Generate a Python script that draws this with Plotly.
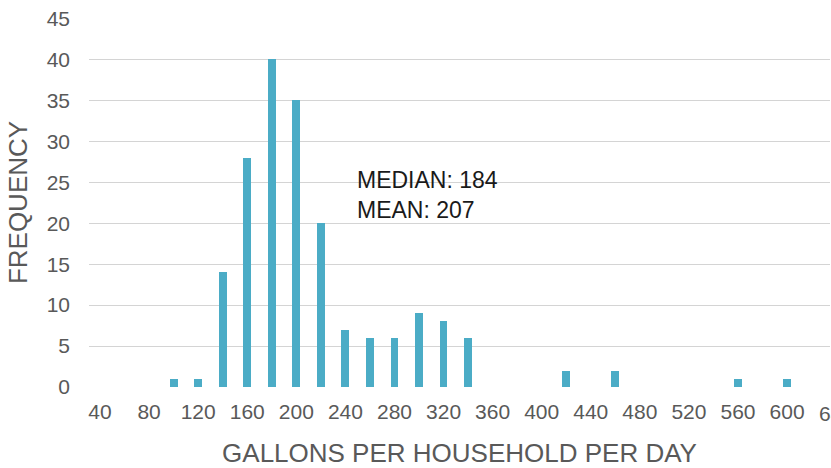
import plotly.graph_objects as go

# Data
bin_centers = [100, 120, 140, 160, 180, 200, 220, 240, 260, 280, 300, 320, 340, 420, 460, 560, 600]
frequency = [1, 1, 14, 28, 40, 35, 20, 7, 6, 6, 9, 8, 6, 2, 2, 1, 1]
x_tick_values = list(range(40, 641, 40))
y_tick_values = list(range(0, 46, 5))
median_value = 184
mean_value = 207

x_range = [31, 635]
y_range = [0, 45.06]
grey = "#595959"
font_family = "Liberation Sans, Arial, sans-serif"

fig = go.Figure()
fig.add_trace(go.Bar(
    x=bin_centers,
    y=frequency,
    width=6.4,
    marker=dict(color="#4BACC6", line=dict(width=0)),
))

fig.add_annotation(
    x=247.5, y=23.4, xref="x", yref="y",
    text=f"MEDIAN: {median_value}<br>MEAN: {mean_value}",
    showarrow=False, xanchor="left", yanchor="middle", align="left",
    font=dict(family=font_family, size=23, color="#1a1a1a"),
)

# last tick label, partly cut off by the figure edge
last_tick = x_tick_values[-1]
fig.add_annotation(
    x=(last_tick - x_range[0]) / (x_range[1] - x_range[0]), y=0,
    xref="paper", yref="paper",
    text=str(last_tick), showarrow=False,
    xanchor="center", yanchor="top", yshift=-13,
    font=dict(family=font_family, size=21, color=grey),
)

fig.update_layout(
    width=831, height=468,
    margin=dict(l=89, r=1, t=18, b=81),
    paper_bgcolor="white", plot_bgcolor="white",
    showlegend=False,
    font=dict(family=font_family, color=grey),
    bargap=0,
)
fig.update_xaxes(
    range=x_range, automargin=False,
    tickmode="array", tickvals=x_tick_values,
    ticktext=[str(v) for v in x_tick_values],
    tickfont=dict(size=21, color=grey),
    showgrid=False, zeroline=False, showline=False,
    ticks="", ticklabelstandoff=10, ticklabeloverflow="allow",
    title=dict(text="GALLONS PER HOUSEHOLD PER DAY",
               font=dict(size=26, color=grey), standoff=24),
)
fig.update_yaxes(
    range=y_range, automargin=False,
    tickmode="array", tickvals=y_tick_values,
    ticktext=[str(v) for v in y_tick_values],
    tickfont=dict(size=21, color=grey),
    showgrid=True, gridcolor="#d4d4d4", gridwidth=1.3,
    zeroline=False, showline=False,
    ticks="", ticklabelstandoff=18, ticklabeloverflow="allow",
    title=dict(text="FREQUENCY", font=dict(size=26, color=grey), standoff=11),
)

# remove the default page margin so the figure fills the window exactly
fig.write_html("out.html", config={"displayModeBar": False},
               post_script="document.body.style.margin='0';")
